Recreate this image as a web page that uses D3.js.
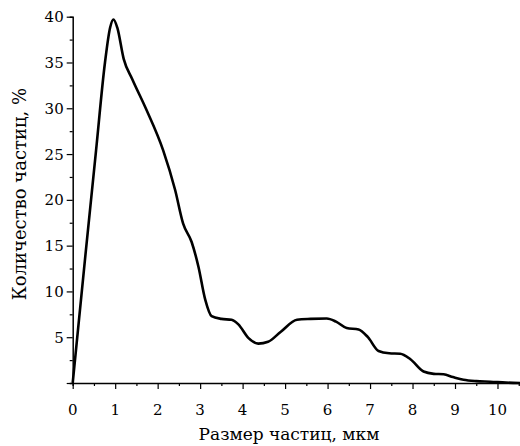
<!DOCTYPE html>
<html>
<head>
<meta charset="utf-8">
<script src="https://cdn.jsdelivr.net/npm/d3@7"></script>
<style>
  body { margin: 0; background: #fff; }
</style>
</head>
<body>
<svg id="chart" width="520" height="446"></svg>
<script>
// particle size, um
const sizes = [0, 0.3, 0.55, 0.76, 0.88, 0.96, 1.05, 1.2, 1.4, 1.72, 2.13, 2.41, 2.6, 2.8, 2.96, 3.12, 3.27, 3.5, 3.74, 3.9, 4.14, 4.37, 4.6, 4.9, 5.28, 5.6, 5.98, 6.2, 6.45, 6.73, 6.95, 7.2, 7.45, 7.71, 7.95, 8.26, 8.5, 8.73, 8.95, 9.2, 9.5, 9.83, 10.2, 10.55];
// share of particles, %
const counts = [0, 14.0, 25.4, 35, 38.8, 39.7, 38.8, 35.4, 33.2, 30, 25.4, 21.1, 17.4, 15.4, 12.7, 9.1, 7.3, 7.0, 6.9, 6.4, 4.9, 4.3, 4.5, 5.6, 6.9, 7.0, 7.05, 6.7, 6.0, 5.85, 5.0, 3.5, 3.25, 3.2, 2.6, 1.25, 1.0, 0.95, 0.65, 0.35, 0.2, 0.14, 0.05, 0];
const xTicks = [0, 1, 2, 3, 4, 5, 6, 7, 8, 9, 10];
const yTicks = [5, 10, 15, 20, 25, 30, 35, 40];

const data = sizes.map((s, i) => ({x: s, y: counts[i]}));
const serif = 'DejaVu Serif';

const svg = d3.select('#chart');
const mLeft = 72.7, mRight = 520, mTop = 16.7, mBottom = 383;

const x = d3.scaleLinear().domain([0, 10.53]).range([mLeft, mRight]);
const y = d3.scaleLinear().domain([0, 40]).range([mBottom, mTop]);

// x axis
const gx = svg.append('g').attr('transform', 'translate(0,' + mBottom + ')');
gx.call(d3.axisBottom(x).tickValues(d3.range(0, 10.6, 0.5)).tickSize(3).tickFormat(''));
gx.call(g => g.selectAll('.tick').filter(d => d % 1 === 0).select('line').attr('y2', 6));
gx.select('.domain').attr('stroke-width', 1.5);
gx.selectAll('.tick line').attr('stroke-width', 1.2);
gx.selectAll('.lbl').data(xTicks).enter().append('text')
  .attr('x', d => x(d)).attr('y', 32)
  .attr('text-anchor', 'middle')
  .attr('fill', '#000')
  .style('font-family', serif)
  .style('font-size', '15px')
  .text(d => d);

// y axis
const gy = svg.append('g').attr('transform', 'translate(' + mLeft + ',0)');
gy.call(d3.axisLeft(y).tickValues(d3.range(0, 40.1, 2.5)).tickSize(3).tickFormat(''));
gy.call(g => g.selectAll('.tick').filter(d => d % 5 === 0).select('line').attr('x2', -6));
gy.select('.domain').attr('stroke-width', 1.5);
gy.selectAll('.tick line').attr('stroke-width', 1.2);
gy.selectAll('.lbl').data(yTicks).enter().append('text')
  .attr('x', -9).attr('y', d => y(d) + 5.5)
  .attr('text-anchor', 'end')
  .attr('fill', '#000')
  .style('font-family', serif)
  .style('font-size', '15px')
  .text(d => d);

// curve
svg.append('path')
  .datum(data)
  .attr('fill', 'none')
  .attr('stroke', '#000')
  .attr('stroke-width', 2.6)
  .attr('stroke-linejoin', 'round')
  .attr('d', d3.line()
    .x(d => x(d.x))
    .y(d => y(d.y))
    .curve(d3.curveMonotoneX));

// titles
svg.append('text')
  .attr('x', 289).attr('y', 440)
  .attr('text-anchor', 'middle')
  .style('font-family', serif)
  .style('font-size', '17px')
  .text('Размер частиц, мкм');

svg.append('text')
  .attr('transform', 'translate(26,194) rotate(-90)')
  .attr('text-anchor', 'middle')
  .style('font-family', serif)
  .style('font-size', '18px')
  .text('Количество частиц, %');
</script>
</body>
</html>
